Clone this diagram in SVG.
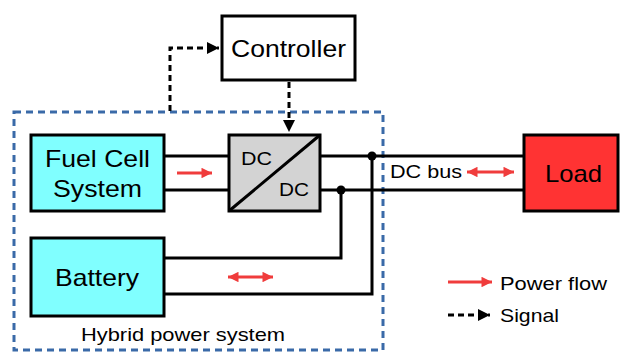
<svg xmlns="http://www.w3.org/2000/svg" width="620" height="352" viewBox="0 0 620 352">
<defs>
<style>
.box{stroke:#000;stroke-width:3}
.wire{fill:none;stroke:#000;stroke-width:3}
.sig{fill:none;stroke:#000;stroke-width:3;stroke-dasharray:6 4}
.pf{fill:none;stroke:#f03c3c;stroke-width:3}
.t{font-family:"Liberation Sans",Arial,sans-serif;fill:#000}
.big{font-size:24px}
.sm{font-size:19px}
</style>
<marker id="ah" viewBox="0 0 10 10" refX="10" refY="5" markerWidth="4" markerHeight="4" orient="auto" markerUnits="strokeWidth">
<path d="M0,0 L10,5 L0,10 z" fill="#000"/>
</marker>
<marker id="rh" viewBox="0 0 10 10" refX="10" refY="5" markerWidth="4" markerHeight="3.5" orient="auto-start-reverse" markerUnits="strokeWidth">
<path d="M0,0 L10,5 L0,10 z" fill="#f03c3c"/>
</marker>
</defs>
<g id="hybrid">
<rect x="14" y="112" width="369" height="238" fill="none" stroke="#3a6aa8" stroke-width="3" stroke-dasharray="7 5"/>
<text class="t sm" x="81" y="341" textLength="204" lengthAdjust="spacingAndGlyphs">Hybrid power system</text>
</g>
<g id="connectors">
<polyline class="sig" points="170,111 170,48 219,48" marker-end="url(#ah)"/>
<line class="sig" x1="289" y1="82" x2="289" y2="132" marker-end="url(#ah)"/>
<line class="wire" x1="164" y1="156" x2="229" y2="156"/>
<line class="wire" x1="164" y1="190" x2="229" y2="190"/>
<line class="wire" x1="320" y1="156" x2="524" y2="156"/>
<line class="wire" x1="320" y1="190" x2="524" y2="190"/>
<polyline class="wire" points="341,190 341,258 164,258"/>
<polyline class="wire" points="372,156 372,294 164,294"/>
<circle cx="341" cy="190" r="4.5" fill="#000"/>
<circle cx="372" cy="156" r="4.5" fill="#000"/>
<line class="pf" x1="177" y1="173" x2="212" y2="173" marker-end="url(#rh)"/>
<line class="pf" x1="228" y1="277" x2="273" y2="277" marker-start="url(#rh)" marker-end="url(#rh)"/>
<line class="pf" x1="467" y1="172" x2="514" y2="172" marker-start="url(#rh)" marker-end="url(#rh)"/>
</g>
<g id="controller">
<rect class="box" x="222" y="16" width="133" height="64" fill="#fff"/>
<text class="t big" x="231" y="57" textLength="115" lengthAdjust="spacingAndGlyphs">Controller</text>
</g>
<g id="fuelcell">
<rect class="box" x="31" y="135" width="133" height="76" fill="#80ffff"/>
<text class="t big" x="45" y="167" textLength="105" lengthAdjust="spacingAndGlyphs">Fuel Cell</text>
<text class="t big" x="53" y="197" textLength="89" lengthAdjust="spacingAndGlyphs">System</text>
</g>
<g id="dcdc">
<rect class="box" x="229" y="135" width="91" height="76" fill="#d3d3d3"/>
<line class="wire" x1="229" y1="211" x2="320" y2="135"/>
<text class="t sm" x="241" y="165" textLength="31" lengthAdjust="spacingAndGlyphs">DC</text>
<text class="t sm" x="279" y="196" textLength="30" lengthAdjust="spacingAndGlyphs">DC</text>
</g>
<g id="battery">
<rect class="box" x="31" y="238" width="133" height="78" fill="#80ffff"/>
<text class="t big" x="55" y="286" textLength="84" lengthAdjust="spacingAndGlyphs">Battery</text>
</g>
<g id="load">
<rect class="box" x="524" y="135" width="94" height="76" fill="#f33"/>
<text class="t big" x="545" y="182" textLength="57" lengthAdjust="spacingAndGlyphs">Load</text>
</g>
<g id="dcbus">
<text class="t sm" x="390" y="178" textLength="72" lengthAdjust="spacingAndGlyphs">DC bus</text>
</g>
<g id="legend">
<line class="pf" x1="448" y1="282" x2="492" y2="282" marker-end="url(#rh)"/>
<text class="t sm" x="500" y="290" textLength="107" lengthAdjust="spacingAndGlyphs">Power flow</text>
<line class="sig" x1="448" y1="315" x2="490" y2="315" marker-end="url(#ah)"/>
<text class="t sm" x="500" y="322" textLength="59" lengthAdjust="spacingAndGlyphs">Signal</text>
</g>
</svg>
